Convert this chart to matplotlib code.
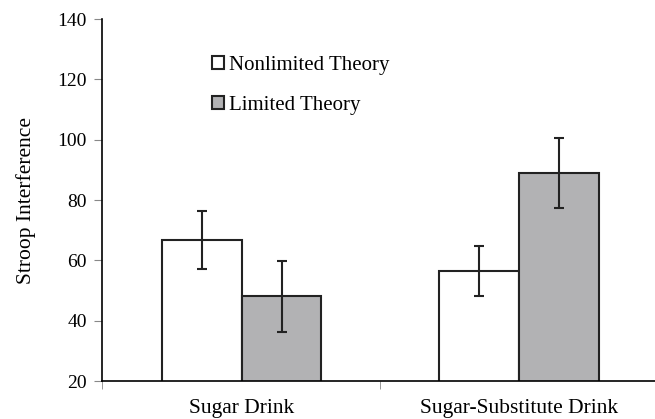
import numpy as np
import matplotlib
matplotlib.use("Agg")
import matplotlib.pyplot as plt

categories = ["Sugar Drink", "Sugar-Substitute Drink"]
series = ["Nonlimited Theory", "Limited Theory"]
nonlimited = [66.7, 56.6]
nonlimited_err = [9.7, 8.3]
limited = [48.1, 88.9]
limited_err = [11.8, 11.5]
yticks = [20, 40, 60, 80, 100, 120, 140]

plt.rcParams['font.family'] = ['Liberation Serif', 'DejaVu Serif']

fig = plt.figure(figsize=(6.55, 4.19), dpi=100)
ax = fig.add_axes([102/655, 1 - 381/419, 1 - 102/655, (381 - 19)/419])

x = np.arange(len(categories))
w = 0.288
err_kw = dict(ecolor='#222222', elinewidth=1.5, capsize=3.8, capthick=1.5)
ax.bar(x - w/2, nonlimited, w, yerr=nonlimited_err, color='white',
       edgecolor='#222222', linewidth=1.5, label=series[0], error_kw=err_kw)
ax.bar(x + w/2, limited, w, yerr=limited_err, color='#b2b2b4',
       edgecolor='#222222', linewidth=1.5, label=series[1], error_kw=err_kw)

xmin, xmax = -0.503, 1.49
ax.set_ylim(20, 140)
ax.set_xlim(xmin, xmax)
ax.set_yticks(yticks)
ax.set_xticks(x)
ax.set_xticklabels(categories, fontsize=15.5)
ax.set_xticks([xmin, 0.5], minor=True)
ax.tick_params(axis='x', which='major', length=0, pad=13)
ax.tick_params(axis='x', which='minor', length=6, color='#888888')
ax.tick_params(axis='y', labelsize=14, length=6, color='#888888', pad=5)
for s in ['top', 'right']:
    ax.spines[s].set_visible(False)
ax.spines['left'].set_linewidth(1.2)
ax.spines['bottom'].set_linewidth(1.2)
ax.set_ylabel("Stroop Interference", fontsize=15.5, labelpad=15)

ax.legend(loc='upper left', bbox_to_anchor=(0.165, 0.95), frameon=False,
          fontsize=15, handlelength=0.6, handleheight=0.6,
          handletextpad=0.2, labelspacing=1.0)

fig.savefig("out.png", dpi=100)
